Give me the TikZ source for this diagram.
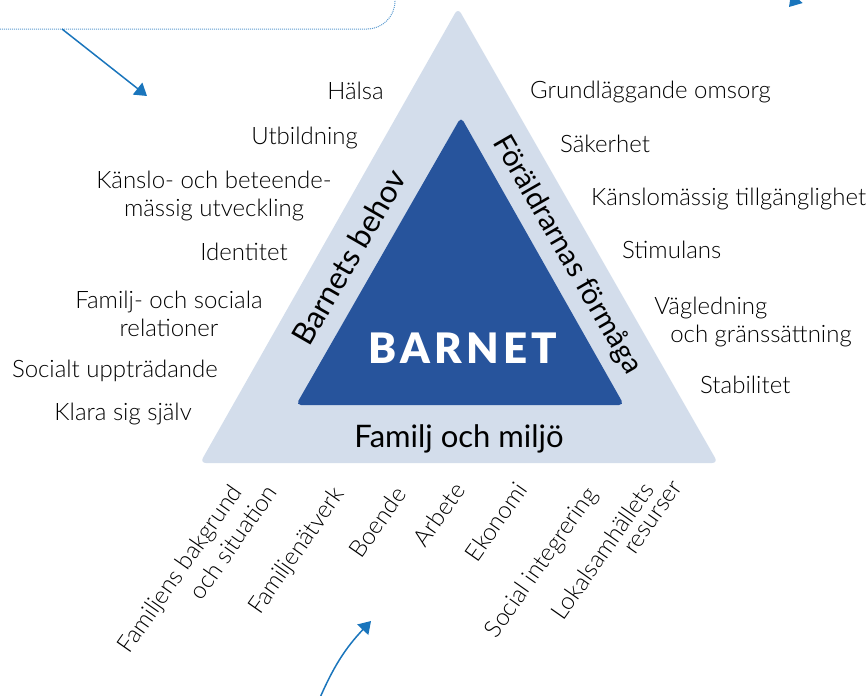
\documentclass[tikz,border=0pt]{standalone}
\usepackage{fontspec}
\setmainfont{Lato Light}[BoldFont=Lato Black]
\newfontfamily\rubrikfont{Lato}
\usetikzlibrary{arrows.meta}

\definecolor{ytter}{HTML}{D3DDEB}
\definecolor{inre}{HTML}{27549C}
\definecolor{pilbla}{HTML}{1A75BC}
\definecolor{ramla}{HTML}{5A9AD0}

\tikzstyle{behov} = [anchor=base east, inner sep=0pt, text=black, font=\fontsize{24}{28}\selectfont]
\tikzstyle{formaga} = [anchor=base west, inner sep=0pt, text=black, font=\fontsize{24}{28}\selectfont]
\tikzstyle{miljo} = [anchor=north east, rotate=55, inner sep=0pt, text=black, font=\fontsize{24}{28}\selectfont]
\tikzstyle{sida} = [inner sep=0pt, text=black, font=\rubrikfont\fontsize{29}{34}\selectfont]
\tikzstyle{pil} = [draw=pilbla, line width=1.5pt, -{Triangle[length=12pt,width=15pt]}]

\begin{document}
\begin{tikzpicture}[x=1pt,y=-1pt]
            \clip (0,0) rectangle (868,696);
            %
            % We start by drawing the two triangles
            \fill [ytter, rounded corners=6pt] (458,8) -- (718,463) -- (200,463) -- cycle;
            \fill [inre, rounded corners=5pt] (461,117) -- (624,405) -- (296,405) -- cycle;
            %
            % The three sides and the child in the middle
            \node [sida, rotate=60, font=\rubrikfont\fontsize{31}{36}\selectfont] (barnbehov) at (349,257) {Barnets behov};
            \node [sida, rotate=-60] (foraldrar) at (567,255) {Föräldrarnas förmåga};
            \node [sida, anchor=base, font=\rubrikfont\fontsize{31}{36}\selectfont] (familj) at (459,447) {Familj och miljö};
            \node [inner sep=0pt, anchor=base, text=white, font=\fontsize{42}{50}\bfseries\addfontfeature{LetterSpace=10}] (barnet) at (463,363) {BARNET};
            %
            % Barnets behov, on the left
            \node [behov] (halsa) at (384,99) {Hälsa};
            \node [behov] (utbildning) at (358,144) {Utbildning};
            \node [behov, anchor=center, align=center] (kanslo) at (214,196) {Känslo- och beteende-\\mässig utveckling};
            \node [behov] (identitet) at (288,260) {Identitet};
            \node [behov, anchor=center, align=center] (relationer) at (169,314) {Familj- och sociala\\relationer};
            \node [behov] (socialt) at (218,377) {Socialt uppträdande};
            \node [behov] (klara) at (192,420) {Klara sig själv};
            %
            % Föräldrarnas förmåga, on the right
            \node [formaga] (omsorg) at (530,98) {Grundläggande omsorg};
            \node [formaga] (sakerhet) at (560,152) {Säkerhet};
            \node [formaga] (tillganglighet) at (591,205) {Känslomässig tillgänglighet};
            \node [formaga] (stimulans) at (622,258) {Stimulans};
            \node [formaga, anchor=center, align=left] (vagledning) at (753,322) {Vägledning\\\hspace{16pt}och gränssättning};
            \node [formaga] (stabilitet) at (700,393) {Stabilitet};
            %
            % Familj och miljö, below the triangle
            \node [miljo] (bakgrund) at (229,482) {Familjens bakgrund};
            \node [miljo] (situation) at (264,482) {och situation};
            \node [miljo] (natverk) at (331,484) {Familjenätverk};
            \node [miljo] (boende) at (393,484) {Boende};
            \node [miljo] (arbete) at (452,480) {Arbete};
            \node [miljo] (ekonomi) at (514,480) {Ekonomi};
            \node [miljo] (integrering) at (584,484) {Social integrering};
            \node [miljo] (lokal) at (641,480) {Lokalsamhällets};
            \node [miljo] (resurser) at (673,480) {resurser};
            %
            % The box at the top left and the arrows
            \draw [ramla, line width=1pt, densely dotted, rounded corners=28pt] (-10,29) -- (395,29) -- (395,-30);
            \coordinate (ruta) at (62,29);
            \coordinate (rutpil) at (147,96);
            \draw [pil] (ruta) -- (rutpil);
            \coordinate (hogerstart) at (830,-40);
            \coordinate (hogerpil) at (789,7);
            \draw [pil] (hogerstart) -- (hogerpil);
            \coordinate (nedstart) at (319,700);
            \coordinate (nedpil) at (371,621);
            \draw [pil] (nedstart) to[bend left=10] (nedpil);
            %
        \end{tikzpicture}
\end{document}
